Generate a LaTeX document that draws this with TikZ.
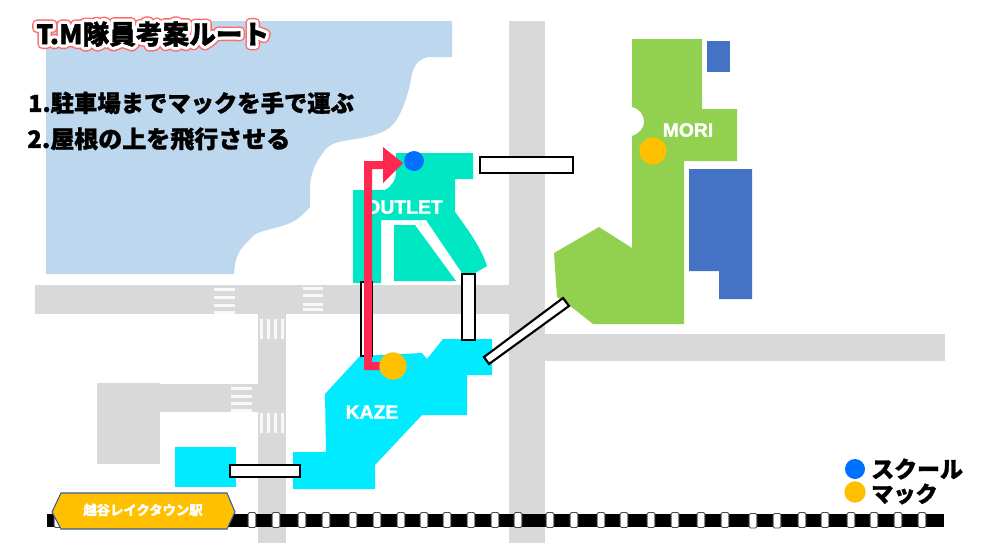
\documentclass[tikz,border=0pt]{standalone}
\usepackage{fontspec}
\setmainfont{Liberation Sans}
\newfontfamily\jpheavy[BoldFeatures={FakeBold=1.3}]{Noto Sans CJK JP}
\newfontfamily\jpplain{Noto Sans CJK JP}
\newfontfamily\jpstation[BoldFeatures={FakeBold=0.5}]{Noto Sans CJK JP}
\newfontfamily\latinheavy[BoldFeatures={FakeBold=1.5}]{Liberation Sans}
\definecolor{lake}{HTML}{BDD7EE}
\definecolor{road}{HTML}{D9D9D9}
\definecolor{outletc}{HTML}{00E8C3}
\definecolor{kazec}{HTML}{00EBFF}
\definecolor{moric}{HTML}{92D050}
\definecolor{bluebld}{HTML}{4472C4}
\definecolor{mackc}{HTML}{FFC000}
\definecolor{schoolc}{HTML}{0070FF}
\definecolor{routec}{HTML}{FF2850}
\definecolor{titlered}{HTML}{FF6B6B}
\newcommand{\titletext}{T.M隊員考案ルート}
\newcommand{\outlined}[2]{\special{pdf:code 2 Tr 1 j #1 w #2 RG}\titletext\special{pdf:code 0 Tr 0 j 1 w 0 0 0 RG}}
\tikzset{
  x=0.75pt,y=-0.75pt,
  roadfill/.style={fill=road,draw=none},
  stripe/.style={fill=white,fill opacity=0.85,draw=none},
  bridge/.style={fill=white,draw=black,line width=1.6pt,line join=miter},
  tie/.style={fill=white,draw=black!70,line width=0.7pt,rounded corners=1pt},
  dotnode/.style={circle,inner sep=0pt,draw=none},
  bigtext/.style={inner sep=0pt,anchor=west,text=black},
  titlestyle/.style={bigtext,font=\jpheavy\bfseries\fontsize{20}{22}\selectfont},
  titleoutline/.style={bigtext,font=\jpplain\bfseries\fontsize{20}{22}\selectfont},
  maplabel/.style={inner sep=0pt,text=white,font=\latinheavy\bfseries\fontsize{14.5}{16}\selectfont},
}
\begin{document}
\begin{tikzpicture}
\useasboundingbox (0,0) rectangle (990,557);
\fill[white] (0,0) rectangle (990,557);
% lake
\fill[lake] (46,21) -- (452,21) -- (452,57) -- (428,57) .. controls (416,60) and (412,68) .. (410,85)
 .. controls (406,100) and (402,112) .. (395,122) .. controls (388,132) and (375,135) .. (362,138)
 .. controls (345,141) and (332,141) .. (325,150) .. controls (316,162) and (310,172) .. (310,190)
 -- (310,207) .. controls (302,216) and (295,222) .. (285,225) .. controls (270,230) and (258,231) .. (253,236)
 .. controls (245,245) and (235,250) .. (234,274) -- (46,274) -- cycle;
% roads
\fill[roadfill] (509,21) rectangle (545,543);
\fill[roadfill] (35,285) rectangle (509,314);
\fill[roadfill] (545,334) rectangle (945,361);
\fill[roadfill] (258,285) rectangle (286,543);
\fill[roadfill] (160,384) rectangle (258,412);
\fill[roadfill] (97,383) rectangle (160,464);
% crossings
\foreach \y in {288,296,304,311} \fill[stripe] (214,\y) rectangle (235,\y+2.6);
\foreach \y in {287,294,303,308} \fill[stripe] (303,\y) rectangle (323,\y+3);
\foreach \y in {387,395,402,409} \fill[stripe] (231,\y) rectangle (252,\y+2.8);
\foreach \x in {260,267,274,281} {
  \fill[stripe] (\x,319) rectangle (\x+2.8,339);
  \fill[stripe] (\x,413) rectangle (\x+2.8,433);
}
% buildings
\fill[outletc] (396,153) -- (473,153) -- (473,179) -- (455,179) -- (455,212)
 .. controls (470,232) and (482,250) .. (487,266) -- (475,273) -- (462,273) -- (426,220) -- (381,220)
 -- (381,283) -- (353,283) -- (353,190) -- (385,190) .. controls (392,186) and (396,180) .. (396,172) -- cycle;
\fill[outletc] (394,225) -- (415,225) -- (456,281) -- (394,281) -- cycle;
\fill[kazec] (443,339) -- (492,339) -- (492,375) -- (467,375) -- (467,415) -- (422,415) -- (375,465)
 -- (375,489) -- (293,489) -- (293,452) -- (326,452) -- (325,394) -- (360,356) -- (422,353) -- (427,359) -- cycle;
\fill[kazec] (175,447) rectangle (236,487);
\fill[moric] (632,39) -- (702,39) -- (702,109) -- (737,109) -- (737,161) -- (684,161) -- (684,324) -- (593,324)
 -- (569,305) -- (557,297) -- (554,253) -- (599,227) -- (632,248) -- (632,136)
 .. controls (640,133) and (644,128) .. (644,122) .. controls (644,115) and (640,109) .. (632,107) -- cycle;
\fill[bluebld] (707,41) rectangle (730,72);
\fill[bluebld] (689,169) -- (752,169) -- (752,299) -- (719,299) -- (719,271) -- (689,271) -- cycle;
% map labels
\node[maplabel] (outletlabel) at (404,207) {OUTLET};
\node[maplabel] (morilabel) at (688,130) {MORI};
\node[maplabel] (kazelabel) at (372,412) {KAZE};
% rail
\fill[black] (47,513.5) rectangle (944,527);
\foreach \x in {58,252,276,302,326,353,377,401,424,447,471,495,518,550,574,601,624,651,675,701,725,802,825,851,874,898,922}
  \filldraw[tie] (\x-3.9,512.5) rectangle (\x+3.9,527.5);
\foreach \x in {753,777}
  \filldraw[tie] (\x-3.9,513.5) rectangle (\x+3.9,528);
% bridges
\draw[bridge] (480,157) rectangle (573,173);
\draw[bridge] (361,282) rectangle (372,356);
\draw[bridge] (462,274) rectangle (475,340);
\draw[bridge] (484,357) -- (563,298) -- (569,306) -- (489,364) -- cycle;
\draw[bridge] (230,465) rectangle (300,477);
% route
\fill[routec] (372,370) -- (364,370) -- (364,161) -- (383,161) -- (383,147) -- (403,163) -- (383,183) -- (383,169)
 -- (372,169) -- (372,362) -- (390,362) -- (390,370) -- cycle;
% markers
\node[dotnode,fill=schoolc,minimum size=15pt] (school) at (414,161) {};
\node[dotnode,fill=mackc,minimum size=20.5pt] (mack) at (393,366) {};
\node[dotnode,fill=mackc,minimum size=20.5pt] (mackmori) at (653,151) {};
% station
\filldraw[fill=mackc,draw=bluebld!80!black,line width=0.8pt] (52,512) -- (61,493) -- (227,493) -- (235,512) -- (227,529) -- (61,529) -- cycle;
\node[inner sep=0pt,text=white,font=\jpstation\bfseries\fontsize{10}{11}\selectfont] (station) at (143,510) {越谷レイクタウン駅};
% title: outline strokes, then the black text
\node[titleoutline,text=titlered] (titlered) at (36,34) {\outlined{7.4}{1 .42 .42}};
\node[titleoutline,text=white] (titlewhite) at (36,34) {\outlined{5.2}{1 1 1}};
\node[titlestyle] (title) at (36,34) {\titletext};
% list
\node[bigtext,font=\jpheavy\bfseries\fontsize{17.5}{20}\selectfont] (lineone) at (28,103) {1.駐車場までマックを手で運ぶ};
\node[bigtext,font=\jpheavy\bfseries\fontsize{18}{20}\selectfont] (linetwo) at (27,139) {2.屋根の上を飛行させる};
% legend
\node[dotnode,fill=schoolc,minimum size=15pt] (legschool) at (855,469) {};
\node[dotnode,fill=mackc,minimum size=16pt] (legmack) at (855,492) {};
\node[bigtext,font=\jpheavy\bfseries\fontsize{17.2}{20}\selectfont] (legschooltext) at (871,469) {スクール};
\node[bigtext,font=\jpheavy\bfseries\fontsize{16.6}{20}\selectfont] (legmacktext) at (871,494) {マック};
\end{tikzpicture}
\end{document}
